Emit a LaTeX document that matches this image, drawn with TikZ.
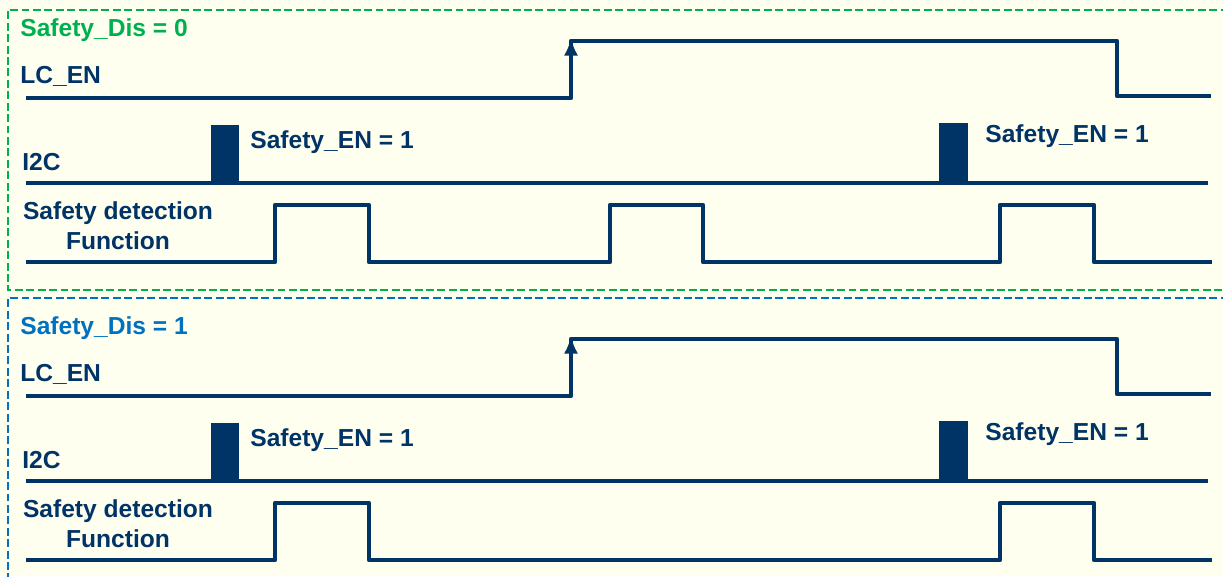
\documentclass[tikz,border=0pt]{standalone}
\usepackage{fontspec}
\setmainfont{Liberation Sans}
\usetikzlibrary{arrows.meta}
\definecolor{wavenavy}{HTML}{003366}
\definecolor{disgreen}{HTML}{00B050}
\definecolor{disblue}{HTML}{0070C0}
\definecolor{bgcream}{HTML}{FFFFF0}
\tikzset{
    wave/.style={draw=wavenavy, line width=2.4pt, line join=round},
    sig/.style={font=\fontsize{14}{17}\selectfont\bfseries, text=wavenavy, inner sep=0pt, anchor=base west},
    panel/.style={draw=#1, line width=1.5pt, dash pattern=on 4.5pt off 2pt}
}
\begin{document}
\begin{tikzpicture}[x=0.02cm, y=-0.02cm]
\fill[bgcream] (0,0) rectangle (1223,576);
\useasboundingbox (0,0) rectangle (1223,576);
\draw[panel=disgreen] (1240,10) -- (8,10) -- (8,290) -- (1240,290);
\draw[panel=disblue] (1240,298) -- (8,298) -- (8,600);
\foreach \dy/\col/\val/\p/\mh in {0/disgreen/0/a/205, 298/disblue/1/b/262}{
  \begin{scope}[shift={(0,\dy)}]
    \node[sig, text=\col] (dis\p) at (20,36) {Safety\_Dis = \val};
    \node[sig] (lc\p) at (20,83) {LC\_EN};
    \node[sig] (i2c\p) at (22,170) {I2C};
    \node[sig, anchor=north, align=center] (sd\p) at (118,201) {Safety detection\\Function};
    \node[sig] (en\p1) at (250,148) {Safety\_EN = 1};
    \node[sig] (en\p2) at (985,142) {Safety\_EN = 1};
    % LC_EN
    \draw[wave] (26,98) -- (571,98) -- (571,41) -- (1117,41) -- (1117,96) -- (1211,96);
    \draw[wave, -{Latex[length=10pt, width=8pt]}] (571,80) -- (571,38);
    % I2C
    \draw[wave] (26,183) -- (1208,183);
    \fill[wavenavy] (211,125) rectangle (239,185);
    \fill[wavenavy] (939,123) rectangle (968,185);
    % Safety detection
    \draw[wave] (26,262) -- (275,262) -- (275,205) -- (369,205) -- (369,262)
      -- (610,262) -- (610,\mh) -- (703,\mh) -- (703,262)
      -- (1000,262) -- (1000,205) -- (1094,205) -- (1094,262) -- (1212,262);
  \end{scope}
}
\end{tikzpicture}
\end{document}
